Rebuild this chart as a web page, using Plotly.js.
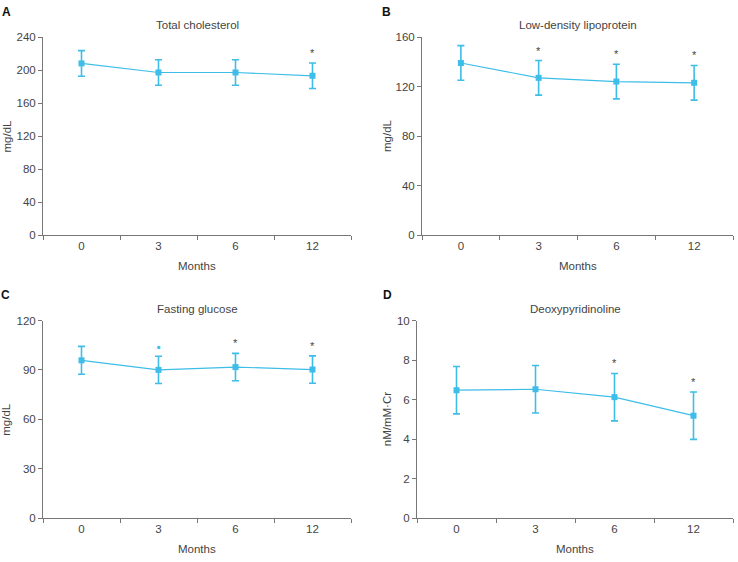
<!DOCTYPE html>
<html>
<head>
<meta charset="utf-8">
<script src="https://cdn.plot.ly/plotly-3.0.1.min.js"></script>
<style>
  html, body { margin: 0; padding: 0; background: #fff; }
  #chart { width: 738px; height: 562px; }
</style>
</head>
<body>
<div id="chart"></div>
<script>
// Follow-up visits (months)
const months = ['0', '3', '6', '12'];

// A: Total cholesterol (mg/dL), mean and SD
const cholMean = [208, 197, 197, 193];
const cholSD   = [15.5, 15.5, 15.5, 15.5];
const cholSig  = [false, false, false, true];

// B: Low-density lipoprotein (mg/dL)
const ldlMean = [139, 127, 124, 123];
const ldlSD   = [14, 14, 14, 14];
const ldlSig  = [false, true, true, true];

// C: Fasting glucose (mg/dL)
const gluMean = [95.8, 90, 91.7, 90.2];
const gluSD   = [8.5, 8.3, 8.3, 8.3];
const gluSig  = [false, true, true, true];

// D: Deoxypyridinoline (nM/mM·Cr)
const dpdMean = [6.47, 6.52, 6.12, 5.18];
const dpdSD   = [1.2, 1.2, 1.2, 1.2];
const dpdSig  = [false, false, true, true];

const panels = [
  {letter: 'A', title: 'Total cholesterol', unit: 'mg/dL', mean: cholMean, sd: cholSD, sig: cholSig,
   yRange: [0, 240], yDtick: 40, xDom: [43, 351], yDom: [37, 235], unitX: 6.5, letterX: 5, blueStar: false},
  {letter: 'B', title: 'Low-density lipoprotein', unit: 'mg/dL', mean: ldlMean, sd: ldlSD, sig: ldlSig,
   yRange: [0, 160], yDtick: 40, xDom: [422, 733], yDom: [37, 235], unitX: 387, letterX: 385, blueStar: false},
  {letter: 'C', title: 'Fasting glucose', unit: 'mg/dL', mean: gluMean, sd: gluSD, sig: gluSig,
   yRange: [0, 120], yDtick: 30, xDom: [43, 351], yDom: [320.5, 518], unitX: 6.5, letterX: 4, blueStar: true},
  {letter: 'D', title: 'Deoxypyridinoline', unit: 'nM/mM\u00b7Cr', mean: dpdMean, sd: dpdSD, sig: dpdSig,
   yRange: [0, 10], yDtick: 2, xDom: [417, 733], yDom: [320.5, 518], unitX: 387, letterX: 386, blueStar: false}
];

const W = 738, H = 562;
const px = v => v / W;
const py = v => 1 - v / H;

const cyan = '#3dbde8';
const textCol = '#444444';
const axisCol = '#777777';
const fontFam = 'Liberation Sans, Arial, sans-serif';
const fs = 11.5;

const traces = [];
const annotations = [];
const layout = {
  width: W, height: H,
  margin: {l: 0, r: 0, t: 0, b: 0},
  paper_bgcolor: '#fff', plot_bgcolor: '#fff',
  showlegend: false,
  font: {family: fontFam, size: fs, color: textCol},
  annotations: annotations
};

panels.forEach((p, i) => {
  const n = i + 1;
  const xa = 'x' + (n === 1 ? '' : n);
  const ya = 'y' + (n === 1 ? '' : n);

  traces.push({
    type: 'scatter', mode: 'lines+markers',
    x: months, y: p.mean, xaxis: xa, yaxis: ya,
    line: {color: cyan, width: 1.2},
    marker: {symbol: 'square', size: 6, color: cyan},
    error_y: {type: 'data', array: p.sd, visible: true, color: cyan, thickness: 1.6, width: 3.5},
    cliponaxis: false, hoverinfo: 'skip'
  });

  layout['xaxis' + (n === 1 ? '' : n)] = {
    domain: [px(p.xDom[0]), px(p.xDom[1])],
    anchor: ya, type: 'category', range: [-0.5, 3.5],
    tickson: 'boundaries', ticks: 'outside', ticklen: 4, tickcolor: axisCol, tickwidth: 1,
    showline: true, linecolor: axisCol, linewidth: 1,
    showgrid: false, zeroline: false, fixedrange: true,
    tickfont: {size: fs, color: textCol}
  };
  layout['yaxis' + (n === 1 ? '' : n)] = {
    domain: [py(p.yDom[1]), py(p.yDom[0])],
    anchor: xa, range: p.yRange, dtick: p.yDtick, tick0: 0,
    ticks: 'outside', ticklen: 4, tickcolor: axisCol, tickwidth: 1,
    showline: true, linecolor: axisCol, linewidth: 1,
    showgrid: false, zeroline: false, fixedrange: true,
    tickfont: {size: fs, color: textCol}
  };

  const cx = (p.xDom[0] + p.xDom[1]) / 2;
  // panel title
  annotations.push({xref: 'paper', yref: 'paper', x: px(cx), y: py(p.yDom[0] - 12),
    text: p.title, showarrow: false, xanchor: 'center', yanchor: 'middle',
    font: {size: fs, color: textCol}});
  // panel letter
  annotations.push({xref: 'paper', yref: 'paper', x: px(p.letterX - 5), y: py(p.yDom[0] - 25),
    text: '<b>' + p.letter + '</b>', showarrow: false, xanchor: 'left', yanchor: 'middle',
    font: {size: 12, color: '#111'}});
  // y-axis unit
  annotations.push({xref: 'paper', yref: 'paper', x: px(p.unitX), y: py((p.yDom[0] + p.yDom[1]) / 2),
    text: p.unit, showarrow: false, textangle: -90, xanchor: 'center', yanchor: 'middle',
    font: {size: fs, color: textCol}});
  // x-axis title
  annotations.push({xref: 'paper', yref: 'paper', x: px(cx), y: py(p.yDom[1] + 31),
    text: 'Months', showarrow: false, xanchor: 'center', yanchor: 'middle',
    font: {size: fs, color: textCol}});

  // significance marks above the error bars (x given as category index)
  p.sig.forEach((s, k) => {
    if (!s) return;
    const blue = p.blueStar && k === 1;
    annotations.push({xref: xa, yref: ya, x: k, y: p.mean[k] + p.sd[k],
      text: blue ? '\u25a0' : '*', showarrow: false, xanchor: 'center', yanchor: 'bottom',
      yshift: blue ? 4 : 2,
      font: {size: blue ? 6 : 11, color: blue ? cyan : textCol}});
  });
});

Plotly.newPlot('chart', traces, layout, {staticPlot: true, displayModeBar: false});
</script>
</body>
</html>
